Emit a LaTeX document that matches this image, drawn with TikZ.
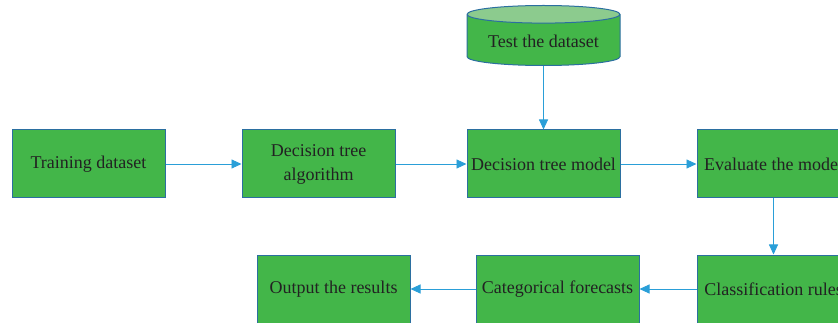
\documentclass[tikz,border=0pt]{standalone}
\usepackage{fontspec}
\setmainfont{Liberation Serif}
\usetikzlibrary{arrows.meta,shapes.geometric}
\definecolor{Box}{HTML}{43B649}
\definecolor{BoxLine}{HTML}{2B6FA0}
\definecolor{Lid}{HTML}{8CCB8E}
\definecolor{Flow}{HTML}{2A9FD8}
\definecolor{Ink}{HTML}{222222}

\begin{document}
\begin{tikzpicture}[x=1pt,y=-1pt,
  box/.style={draw=BoxLine,fill=Box,line width=1pt,minimum width=153pt,minimum height=68pt,
    inner sep=2pt,text=Ink,font=\fontsize{18}{24}\selectfont,align=center},
  store/.style={draw=BoxLine,line width=1pt,cylinder,shape border rotate=90,aspect=0.15,
    minimum width=153pt,minimum height=60pt,text=Ink,font=\fontsize{18}{24}\selectfont,
    cylinder uses custom fill,cylinder body fill=Box,cylinder end fill=Lid},
  flow/.style={draw=Flow,line width=0.9pt,-{Triangle[length=10pt,width=9pt]}}]
  \useasboundingbox (0,0) rectangle (838,323);
  \clip (0,0) rectangle (838,323);
  % top row
  \node[box] (train) at (88.5,164) {Training dataset};
  \node[box] (algo) at (318.5,164) {Decision tree\\algorithm};
  \node[box] (model) at (543.5,164) {Decision tree model};
  \node[box] (evaluate) at (773.5,164) {Evaluate the model};
  \node[store,anchor=south] (test) at (543.5,66) {Test the dataset};
  % bottom row
  \node[box] (rules) at (773.5,289) {Classification rules};
  \node[box,minimum width=163pt] (forecast) at (557.5,289) {Categorical forecasts};
  \node[box] (output) at (333.5,289) {Output the results};
  % arrows
  \draw[flow] (train) -- (algo);
  \draw[flow] (algo) -- (model);
  \draw[flow] (model) -- (evaluate);
  \draw[flow] (test) -- (model);
  \draw[flow] (evaluate) -- (rules);
  \draw[flow] (rules) -- (forecast);
  \draw[flow] (forecast) -- (output);
\end{tikzpicture}
\end{document}
